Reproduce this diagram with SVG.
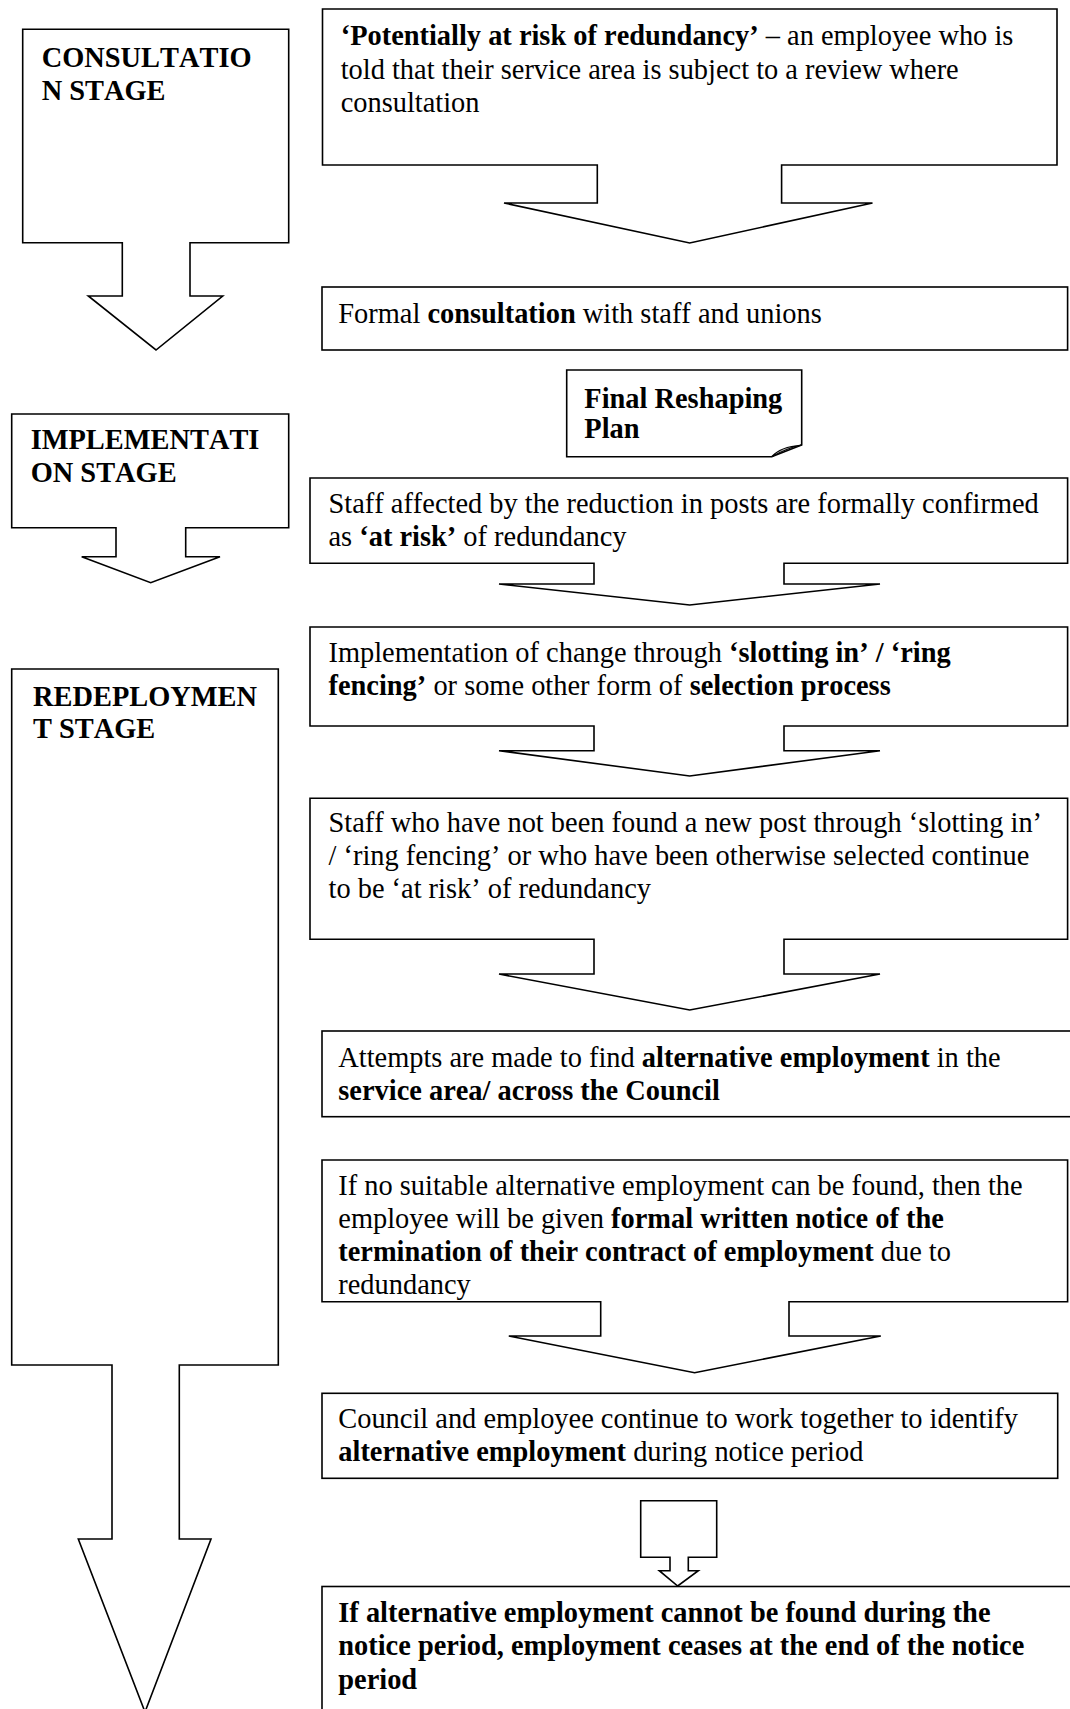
<svg xmlns="http://www.w3.org/2000/svg" width="1070" height="1709" viewBox="0 0 1070 1709">
<style>
.s{fill:#fff;stroke:#000;stroke-width:1.6;stroke-linejoin:miter}
text{font-family:"Liberation Serif","Times New Roman",serif;font-size:28.4px;fill:#000;font-kerning:none}
.b{font-weight:bold}
</style>
<rect width="1070" height="1709" fill="#fff"/>
<g id="stage-consultation">
<path class="s" d="M22.7,29.3 H288.7 V242.7 H190 V296 H222.7 L156,350 L88.3,296 H122.3 V242.7 H22.7 Z"/>
<text class="b" x="41.7" y="66.7">CONSULTATIO</text>
<text class="b" x="41.7" y="100">N STAGE</text>
</g>
<g id="stage-implementation">
<path class="s" d="M11.7,414 H288.7 V527.7 H185.7 V556.7 H220 L150.7,582.7 L81.7,556.7 H116 V527.7 H11.7 Z"/>
<text class="b" x="30.7" y="449.3">IMPLEMENTATI</text>
<text class="b" x="30.7" y="481.7">ON STAGE</text>
</g>
<g id="stage-redeployment">
<path class="s" d="M11.7,669 H278.3 V1365 H179.3 V1539 H211 L145,1712 L78.3,1539 H112 V1365 H11.7 Z"/>
<text class="b" x="33" y="706">REDEPLOYMEN</text>
<text class="b" x="33" y="738">T STAGE</text>
</g>
<g id="potentially-at-risk">
<path class="s" d="M322.5,9 H1057 V165 H781.6 V203 H872.5 L689.7,243 L504,203 H597.3 V165 H322.5 Z"/>
<text x="340.7" y="45"><tspan class="b">‘Potentially at risk of redundancy’</tspan> – an employee who is</text>
<text x="340.7" y="78.5">told that their service area is subject to a review where</text>
<text x="340.7" y="112">consultation</text>
</g>
<g id="formal-consultation">
<rect class="s" x="322" y="287" width="745.6" height="63"/>
<text x="338.3" y="322.7">Formal <tspan class="b">consultation</tspan> with staff and unions</text>
</g>
<g id="final-reshaping-plan">
<path class="s" d="M566.7,370 H801.7 V445 L771.7,456.7 H566.7 Z"/>
<path d="M771.7,456.7 Q780,447 801.7,445 Q786,448.5 771.7,456.7 Z" fill="#bdbdbd" stroke="#000" stroke-width="1.2"/>
<text class="b" x="584.3" y="407.7">Final Reshaping</text>
<text class="b" x="584.3" y="437.7">Plan</text>
</g>
<g id="confirmed-at-risk">
<path class="s" d="M310,478 H1067.6 V563.3 H784 V584 H880 L689.7,605 L499,584 H594 V563.3 H310 Z"/>
<text x="328.5" y="513">Staff affected by the reduction in posts are formally confirmed</text>
<text x="328.5" y="546">as <tspan class="b">‘at risk’</tspan> of redundancy</text>
</g>
<g id="implementation-of-change">
<path class="s" d="M310,627 H1067.6 V726 H784 V750.7 H880 L689.7,776 L499,750.7 H594 V726 H310 Z"/>
<text x="328.5" y="661.7">Implementation of change through <tspan class="b">‘slotting in’ / ‘ring</tspan></text>
<text x="328.5" y="695"><tspan class="b">fencing’</tspan> or some other form of <tspan class="b">selection process</tspan></text>
</g>
<g id="continue-at-risk">
<path class="s" d="M310,798.3 H1067.6 V939.3 H784 V974 H880 L689.7,1010 L499,974 H594 V939.3 H310 Z"/>
<text x="328.5" y="831.5">Staff who have not been found a new post through ‘slotting in’</text>
<text x="328.5" y="864.5">/ ‘ring fencing’ or who have been otherwise selected continue</text>
<text x="328.5" y="897.5">to be ‘at risk’ of redundancy</text>
</g>
<g id="alternative-employment">
<rect class="s" x="322" y="1031" width="760" height="85.7"/>
<text x="338.3" y="1066.7">Attempts are made to find <tspan class="b">alternative employment</tspan> in the</text>
<text x="338.3" y="1100"><tspan class="b">service area/ across the Council</tspan></text>
</g>
<g id="formal-notice">
<path class="s" d="M322,1160 H1067.6 V1301.7 H789 V1336 H880.8 L694.6,1372.7 L508.8,1336 H600.7 V1301.7 H322 Z"/>
<text x="338.3" y="1195">If no suitable alternative employment can be found, then the</text>
<text x="338.3" y="1228">employee will be given <tspan class="b">formal written notice of the</tspan></text>
<text x="338.3" y="1261"><tspan class="b">termination of their contract of employment</tspan> due to</text>
<text x="338.3" y="1294">redundancy</text>
</g>
<g id="notice-period">
<rect class="s" x="322" y="1393.3" width="735.7" height="85"/>
<text x="338.3" y="1428.3">Council and employee continue to work together to identify</text>
<text x="338.3" y="1461"><tspan class="b">alternative employment</tspan> during notice period</text>
</g>
<g id="connectors">
<path class="s" d="M640.7,1500.7 H716.7 V1557.3 H688.3 V1570.7 H698.3 L677.7,1586 L659.3,1570.7 H670 V1557.3 H640.7 Z"/>
</g>
<g id="employment-ceases">
<rect class="s" x="322" y="1586.5" width="760" height="140"/>
<text class="b" x="338.3" y="1621.5">If alternative employment cannot be found during the</text>
<text class="b" x="338.3" y="1655">notice period, employment ceases at the end of the notice</text>
<text class="b" x="338.3" y="1688.5">period</text>
</g>
</svg>
